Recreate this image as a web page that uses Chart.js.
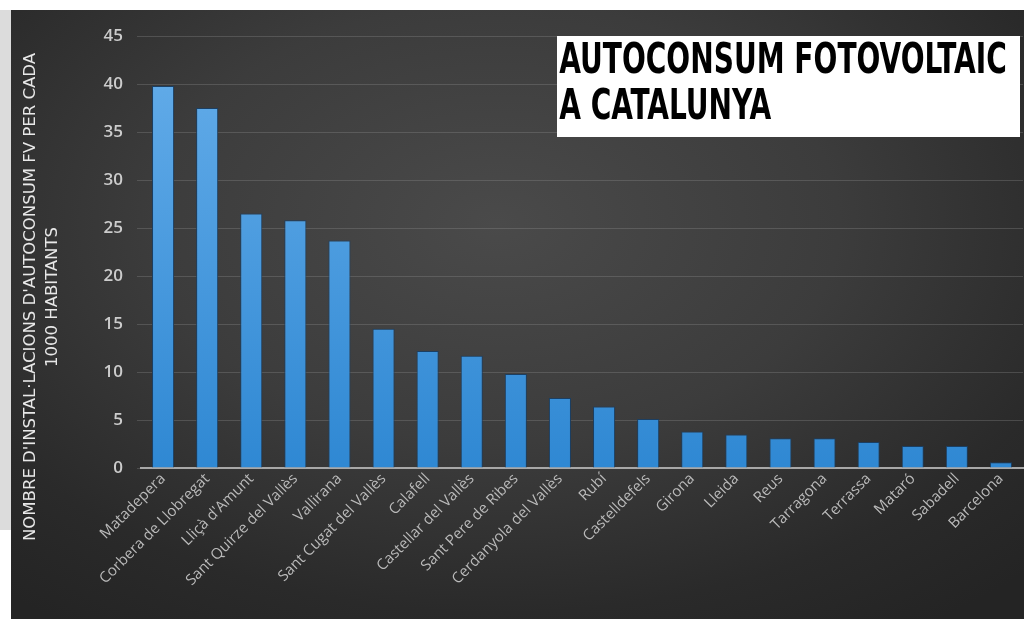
<!DOCTYPE html>
<html>
<head>
<meta charset="utf-8">
<script src="https://cdn.jsdelivr.net/npm/chart.js@4/dist/chart.umd.min.js"></script>
<style>
  html, body { margin: 0; padding: 0; background: #ffffff; width: 1024px; height: 619px; overflow: hidden; }
  #strip { position: absolute; left: 0; top: 10px; width: 11px; height: 520px; background: #dcdcdc; }
  #panel {
    position: absolute; left: 11px; top: 10px; width: 1013px; height: 609px;
    background: radial-gradient(ellipse 75% 80% at 48% 35%, #4a4a4a 0%, #3c3c3c 45%, #2a2a2a 80%, #242424 100%);
  }
  #title {
    position: absolute; left: 557px; top: 36px; width: 463px; height: 101px;
    background: #ffffff; color: #000000;
    font-family: "Liberation Sans Narrow", "DejaVu Sans Condensed", sans-serif;
    font-weight: bold; font-size: 42px; line-height: 46px;
  }
  #title div { transform-origin: 0 0; white-space: nowrap; padding-left: 3px; }
</style>
</head>
<body>
<div id="strip"></div>
<div id="panel"><canvas id="chart" width="1013" height="609"></canvas></div>
<div id="title"><div id="t1">AUTOCONSUM FOTOVOLTAIC</div><div id="t2">A CATALUNYA</div></div>
<script>
// municipalities, installations per 1000 inhabitants
var towns = ["Matadepera", "Corbera de Llobregat", "Lliçà d'Amunt", "Sant Quirze del Vallès",
  "Vallirana", "Sant Cugat del Vallès", "Calafell", "Castellar del Vallès", "Sant Pere de Ribes",
  "Cerdanyola del Vallès", "Rubí", "Castelldefels", "Girona", "Lleida", "Reus", "Tarragona",
  "Terrassa", "Mataró", "Sabadell", "Barcelona"];
var values = [39.8, 37.5, 26.5, 25.8, 23.7, 14.5, 12.2, 11.7, 9.8, 7.3, 6.4, 5.1, 3.8, 3.5, 3.1, 3.1, 2.7, 2.3, 2.3, 0.6];
var yTitle = ["NOMBRE D'INSTAL·LACIONS D'AUTOCONSUM FV PER CADA", "1000 HABITANTS"];

// squeeze the heading so it fits the white box like the original
var t1 = document.getElementById("t1");
var s = 450 / t1.scrollWidth;
t1.style.transform = "scaleX(" + s + ")";
document.getElementById("t2").style.transform = "scaleX(" + s + ")";

var barFill = function(c) {
  var area = c.chart.chartArea;
  if (!area) return "#3d93dc";
  var g = c.chart.ctx.createLinearGradient(0, area.top, 0, area.bottom);
  g.addColorStop(0, "#66aeea");
  g.addColorStop(1, "#2f88d3");
  return g;
};

// vertical axis title, drawn centred on the panel rather than the plot
var yTitlePlugin = {
  id: "ytitle",
  afterDraw: function(chart) {
    var ctx = chart.ctx;
    ctx.save();
    ctx.fillStyle = "#e8e8e8";
    ctx.font = "16px 'Liberation Sans Narrow', 'DejaVu Sans Condensed', sans-serif";
    ctx.textAlign = "center";
    ctx.textBaseline = "middle";
    var w = ctx.measureText(yTitle[0]).width;
    var k = 488 / w;
    ctx.translate(20, 287);
    ctx.rotate(-Math.PI / 2);
    ctx.scale(k, 1);
    ctx.fillText(yTitle[0], 0, 0);
    ctx.fillText(yTitle[1], 0, 22);
    ctx.restore();
  }
};

new Chart(document.getElementById("chart"), {
  type: "bar",
  data: {
    labels: towns,
    datasets: [{
      data: values,
      backgroundColor: barFill,
      borderColor: "#1b3f63",
      borderWidth: 1,
      categoryPercentage: 1,
      barPercentage: 0.5
    }]
  },
  options: {
    responsive: false,
    animation: false,
    layout: { padding: { top: 26, right: 1, left: 0, bottom: 0 } },
    plugins: { legend: { display: false }, tooltip: { enabled: false } },
    scales: {
      x: {
        grid: { display: false, drawTicks: false },
        border: { color: "#a8a8a8", width: 2 },
        ticks: {
          color: "#bababa",
          font: { family: "'Open Sans', sans-serif", size: 15 },
          minRotation: 45, maxRotation: 45,
          padding: 2, autoSkip: false
        },
        afterFit: function(scale) { scale.height = 151; }
      },
      y: {
        min: 0, max: 45,
        ticks: {
          stepSize: 5,
          color: "#cccccc",
          font: { family: "'Open Sans', sans-serif", size: 17, weight: "600" },
          padding: 14
        },
        grid: { color: "rgba(150,150,150,0.3)", tickLength: 4, lineWidth: 1 },
        border: { display: false },
        afterFit: function(scale) { scale.width = 130; }
      }
    }
  },
  plugins: [yTitlePlugin]
});
</script>
</body>
</html>
